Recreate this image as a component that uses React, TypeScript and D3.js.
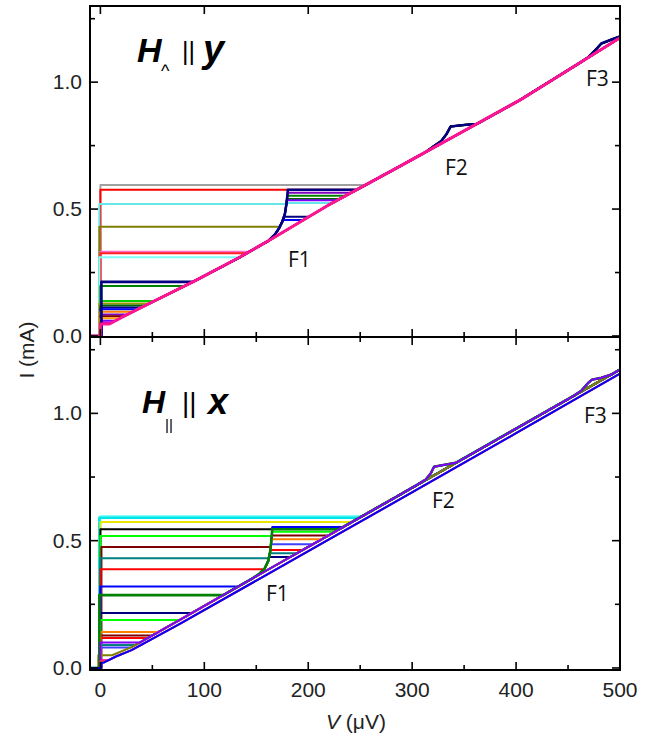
import React from 'react';
import * as d3 from 'd3';

type P = [number, number];

// ---------- axis ticks ----------
const xMajor = [0, 100, 200, 300, 400, 500];
const xMinor = [50, 150, 250, 350, 450];
const yMajor = [0, 0.5, 1.0];
const yMinor = [0.25, 0.75, 1.25];

// ---------- top panel (H ⊥ y) ----------
const topBranch: P[] = [[0, 0.035], [10, 0.05], [20, 0.072], [44, 0.122], [90, 0.215], [134, 0.31], [165, 0.383], [220, 0.517], [288, 0.668], [404, 0.93], [500, 1.175]];
const topF1: P[] = [[162, 0.376], [168, 0.4], [172, 0.425], [175, 0.45], [177.5, 0.48], [179, 0.52], [180, 0.555], [180.5, 0.585]];
const topF2: P[] = [[312, 0.722], [320, 0.745], [328, 0.768], [333, 0.795], [337, 0.825], [352, 0.832], [362, 0.835]];
const topF3: P[] = [[462, 1.078], [470, 1.1], [476, 1.125], [482, 1.152], [492, 1.168], [500, 1.18]];
const topIc = [0.595, 0.576, 0.52, 0.43, 0.332, 0.326, 0.31, 0.197, 0.138, 0.128, 0.12, 0.112, 0.105, 0.095, 0.085, 0.078, 0.07, 0.06, 0.052, 0.213, 0.047];
const topIr = [0, 0.576, 0.524, 0.54, 0, 0, 0, 0.552, 0, 0, 0.54, 0.47, 0.457, 0, 0.564, 0, 0, 0.535, 0, 0.576, 0];
const topBump = [0, 0, 0, 1, 0, 0, 0, 1, 0, 0, 1, 0, 0, 0, 0, 1, 0, 0, 0, 1, 0];
const topV0 = [0, 0, -1, -1, 0, 0, -1, 0, 0, -1, 0, 1, 0, 0, 1, 0, 0, 1, 0, 1, 0];
const topColors = ['#a0a0a0', '#ff0000', '#66e6e6', '#808000', '#ff66cc', '#ff2020', '#80ffff', '#008000', '#00cc00', '#999900', '#006400', '#000080', '#0000ff', '#ff8000', '#8000c0', '#800000', '#ffa500', '#8000ff', '#c000c0', '#000080', '#ff1493'];

// ---------- bottom panel (H || x) ----------
const botBranch: P[] = [[0, 0.035], [10, 0.048], [30, 0.082], [76, 0.188], [156, 0.374], [220, 0.522], [288, 0.68], [400, 0.94], [500, 1.172]];
const botBranchLow: P[] = [[0, 0.012], [5, 0.025], [15, 0.045], [30, 0.07], [76, 0.172], [156, 0.357], [220, 0.505], [288, 0.662], [400, 0.922], [500, 1.156]];
const botF1: P[] = [[146, 0.351], [153, 0.37], [158, 0.39], [161.5, 0.42], [163.5, 0.46], [164.5, 0.5], [165.2, 0.535], [165.5, 0.56]];
const botF2: P[] = [[305, 0.72], [313, 0.74], [318, 0.765], [321, 0.79], [330, 0.797], [342, 0.806]];
const botF3: P[] = [[455, 1.068], [463, 1.09], [469, 1.118], [473, 1.132], [482, 1.14], [492, 1.153]];
const botIc = [0.596, 0.59, 0.573, 0.545, 0.518, 0.475, 0.431, 0.388, 0.32, 0.216, 0.188, 0.128, 0.118, 0.09, 0.08, 0.05, 0.141, 0.286, 0.1, 0.03, 0.025, 0.02];
const botIr = [0, 0, 0, 0.55, 0.535, 0.52, 0.451, 0.463, 0.554, 0.436, 0, 0, 0, 0, 0.486, 0, 0.506, 0.545, 0, 0, 0, 0];
const botBump = [0, 0, 0, 0, 0, 0, 0, 0, 0, 1, 0, 0, 0, 0, 0, 0, 1, 1, 1, 0, 0, 0];
const botLow = [0, 0, 0, 0, 0, 0, 0, 0, 0, 0, 0, 0, 0, 0, 0, 0, 0, 0, 0, 1, 1, 1];
const botV0 = [0, -1, 0, 0, 0, 1, 0, 0, 0, 0, 0, 0, 0, 0, 0, -2, 0, -1, 0, 1, 0, 1];
const botColors = ['#80ffff', '#00e5e5', '#e6e600', '#000000', '#00ff00', '#800000', '#008080', '#ff0000', '#0000ff', '#000080', '#00ff00', '#800000', '#ff0000', '#008080', '#4040ff', '#808000', '#ff8000', '#008000', '#8000ff', '#ff0080', '#ff4040', '#0000ff'];

// ---------- helpers ----------
function interpV(branch: P[], I: number): number {
  for (let i = 0; i < branch.length - 1; i++) {
    const a = branch[i], b = branch[i + 1];
    if (I >= a[1] && I <= b[1]) {
      const t = b[1] === a[1] ? 0 : (I - a[1]) / (b[1] - a[1]);
      return a[0] + t * (b[0] - a[0]);
    }
  }
  return I < branch[0][1] ? branch[0][0] : branch[branch.length - 1][0];
}

function withBumps(branch: P[], bumps: P[][]): P[] {
  const kept = branch.filter(p => !bumps.some(b => p[0] >= b[0][0] && p[0] <= b[b.length - 1][0]));
  return kept.concat(...bumps).sort((a, b) => a[0] - b[0]);
}

function curvePoints(ic: number, ir: number, v0: number, branch: P[], f1: P[] | null): P[] {
  const pts: P[] = [[-10, 0], [v0, 0], [v0, ic]];
  if (f1 && ir > 0 && ic < f1[f1.length - 1][1]) {
    const f1Lo = f1[0][1];
    if (ic < f1Lo) {
      if (ic > branch[0][1]) pts.push([interpV(branch, ic), ic]);
      else pts.push(branch[0]);
      branch.forEach(p => { if (p[1] > ic && p[0] < f1[0][0]) pts.push(p); });
      f1.forEach(p => { if (p[1] < ir) pts.push(p); });
    } else {
      pts.push([interpV(f1, ic), ic]);
      f1.forEach(p => { if (p[1] > ic && p[1] < ir) pts.push(p); });
    }
    pts.push([interpV(f1, ir), ir]);
    pts.push([interpV(branch, ir), ir]);
    branch.forEach(p => { if (p[1] > ir) pts.push(p); });
  } else {
    if (ic > branch[0][1]) pts.push([interpV(branch, ic), ic]);
    else pts.push(branch[0]);
    branch.forEach(p => { if (p[1] > ic) pts.push(p); });
  }
  return pts;
}

// ---------- layout ----------
const W = 664, H = 743;
const left = 90, right = 620;
const topY0 = 6, midY = 337, botY1 = 670;

const x = d3.scaleLinear().domain([-10, 500]).range([left, right]);
const yTop = d3.scaleLinear().domain([-0.004, 1.3]).range([midY, topY0]);
const yBot = d3.scaleLinear().domain([-0.008, 1.3]).range([botY1, midY]);

const tickFont = "'Liberation Sans', Arial, sans-serif";
const fFont = "'Open Sans', 'Liberation Sans', sans-serif";

function Curves({ y, ics, irs, bumps, v0s, colors, branch, lowBranch, lows, f1, f2, f3, clipId, widths }: any) {
  const line = d3.line<P>().x(d => x(d[0])).y(d => y(d[1]));
  const bumped = withBumps(branch, [f2, f3]);
  return (
    <g clipPath={`url(#${clipId})`}>
      {ics.map((ic: number, i: number) => {
        const isLow = lows && lows[i];
        const br = isLow ? lowBranch : (bumps[i] ? bumped : branch);
        const pts = curvePoints(ic, irs[i], v0s[i], br, isLow ? null : f1);
        return (
          <path key={i} d={line(pts) || ''} fill="none" stroke={colors[i]}
            strokeWidth={widths ? widths[i] : 2} strokeLinejoin="round" />
        );
      })}
    </g>
  );
}

function Frame() {
  const els: any[] = [];
  const sw = 1.6;
  [[yTop, 'T'], [yBot, 'B']].forEach(([ys, k]: any) => {
    yMajor.forEach(v => {
      els.push(<line key={`lm${k}${v}`} x1={left} x2={left + 8} y1={ys(v)} y2={ys(v)} stroke="#000" strokeWidth={sw} />);
      els.push(<line key={`rm${k}${v}`} x1={right} x2={right - 8} y1={ys(v)} y2={ys(v)} stroke="#000" strokeWidth={sw} />);
      els.push(<text key={`lt${k}${v}`} x={82} y={ys(v) + 7} textAnchor="end" fontFamily={tickFont} fontSize={21} fill="#222">{v.toFixed(1)}</text>);
    });
    yMinor.forEach(v => {
      els.push(<line key={`ln${k}${v}`} x1={left} x2={left + 5} y1={ys(v)} y2={ys(v)} stroke="#000" strokeWidth={sw} />);
      els.push(<line key={`rn${k}${v}`} x1={right} x2={right - 5} y1={ys(v)} y2={ys(v)} stroke="#000" strokeWidth={sw} />);
    });
  });
  xMajor.forEach(v => {
    els.push(<line key={`tt${v}`} x1={x(v)} x2={x(v)} y1={topY0} y2={topY0 + 8} stroke="#000" strokeWidth={sw} />);
    els.push(<line key={`mu${v}`} x1={x(v)} x2={x(v)} y1={midY} y2={midY - 8} stroke="#000" strokeWidth={sw} />);
    els.push(<line key={`md${v}`} x1={x(v)} x2={x(v)} y1={midY} y2={midY + 8} stroke="#000" strokeWidth={sw} />);
    els.push(<line key={`bu${v}`} x1={x(v)} x2={x(v)} y1={botY1} y2={botY1 - 8} stroke="#000" strokeWidth={sw} />);
    els.push(<text key={`bl${v}`} x={x(v)} y={697} textAnchor="middle" fontFamily={tickFont} fontSize={21} fill="#222">{v}</text>);
  });
  xMinor.forEach(v => {
    els.push(<line key={`mun${v}`} x1={x(v)} x2={x(v)} y1={midY} y2={midY - 5} stroke="#000" strokeWidth={sw} />);
    els.push(<line key={`mdn${v}`} x1={x(v)} x2={x(v)} y1={midY} y2={midY + 5} stroke="#000" strokeWidth={sw} />);
    els.push(<line key={`bun${v}`} x1={x(v)} x2={x(v)} y1={botY1} y2={botY1 - 5} stroke="#000" strokeWidth={sw} />);
  });
  els.push(<rect key="f1" x={left} y={topY0} width={right - left} height={midY - topY0} fill="none" stroke="#000" strokeWidth={2} />);
  els.push(<rect key="f2" x={left} y={midY} width={right - left} height={botY1 - midY} fill="none" stroke="#000" strokeWidth={2} />);
  return <g>{els}</g>;
}

export default function App() {
  const topWidths = topColors.map((c, i) => (i === topColors.length - 1 ? 3 : i === 19 ? 2.6 : 2));
  const botWidths = botColors.map((c, i) => (i < 2 ? 2.6 : i === 17 ? 2.6 : 2));
  return (
    <div style={{ position: 'absolute', left: 0, top: 0 }}>
      <svg width={W} height={H} viewBox={`0 0 ${W} ${H}`} style={{ display: 'block', background: '#fff' }}>
        <defs>
          <clipPath id="clipTop"><rect x={left} y={topY0} width={right - left} height={midY - topY0} /></clipPath>
          <clipPath id="clipBot"><rect x={left} y={midY} width={right - left} height={botY1 - midY} /></clipPath>
        </defs>
        <rect x={0} y={0} width={W} height={H} fill="#fff" />
        <Curves y={yTop} ics={topIc} irs={topIr} bumps={topBump} v0s={topV0} colors={topColors}
          branch={topBranch} f1={topF1} f2={topF2} f3={topF3} clipId="clipTop" widths={topWidths} />
        <Curves y={yBot} ics={botIc} irs={botIr} bumps={botBump} v0s={botV0} colors={botColors}
          branch={botBranch} lowBranch={botBranchLow} lows={botLow} f1={botF1} f2={botF2} f3={botF3} clipId="clipBot" widths={botWidths} />
        <Frame />
        {/* panel titles */}
        <text x={137} y={62} fontFamily={tickFont} fontWeight="bold" fontStyle="italic" fontSize={34}>H</text>
        <text x={161} y={77} fontFamily={tickFont} fontSize={18}>^</text>
        <text x={182} y={60} fontFamily={tickFont} fontSize={25}>||</text>
        <text x={203} y={62} fontFamily={tickFont} fontWeight="bold" fontStyle="italic" fontSize={38}>y</text>

        <text x={142} y={413} fontFamily={tickFont} fontWeight="bold" fontStyle="italic" fontSize={32}>H</text>
        <text x={165} y={430} fontFamily={tickFont} fontSize={15}>||</text>
        <text x={182} y={412} fontFamily={tickFont} fontSize={28}>||</text>
        <text x={208} y={414} fontFamily={tickFont} fontWeight="bold" fontStyle="italic" fontSize={36}>x</text>

        {/* feature labels */}
        <text x={288} y={267} fontFamily={fFont} fontSize={21} fill="#111">F1</text>
        <text x={445} y={175} fontFamily={fFont} fontSize={21} fill="#111">F2</text>
        <text x={586} y={86} fontFamily={fFont} fontSize={21} fill="#111">F3</text>
        <text x={266} y={601} fontFamily={fFont} fontSize={21} fill="#111">F1</text>
        <text x={432} y={508} fontFamily={fFont} fontSize={21} fill="#111">F2</text>
        <text x={584} y={423} fontFamily={fFont} fontSize={21} fill="#111">F3</text>

        {/* axis titles */}
        <text transform="translate(34,350) rotate(-90)" textAnchor="middle" fontFamily={tickFont} fontSize={21} fill="#222">I (mA)</text>
        <text x={356} y={729} textAnchor="middle" fontFamily={tickFont} fontSize={21} fill="#222">
          <tspan fontStyle="italic">V</tspan><tspan> (μV)</tspan>
        </text>
      </svg>
    </div>
  );
}
